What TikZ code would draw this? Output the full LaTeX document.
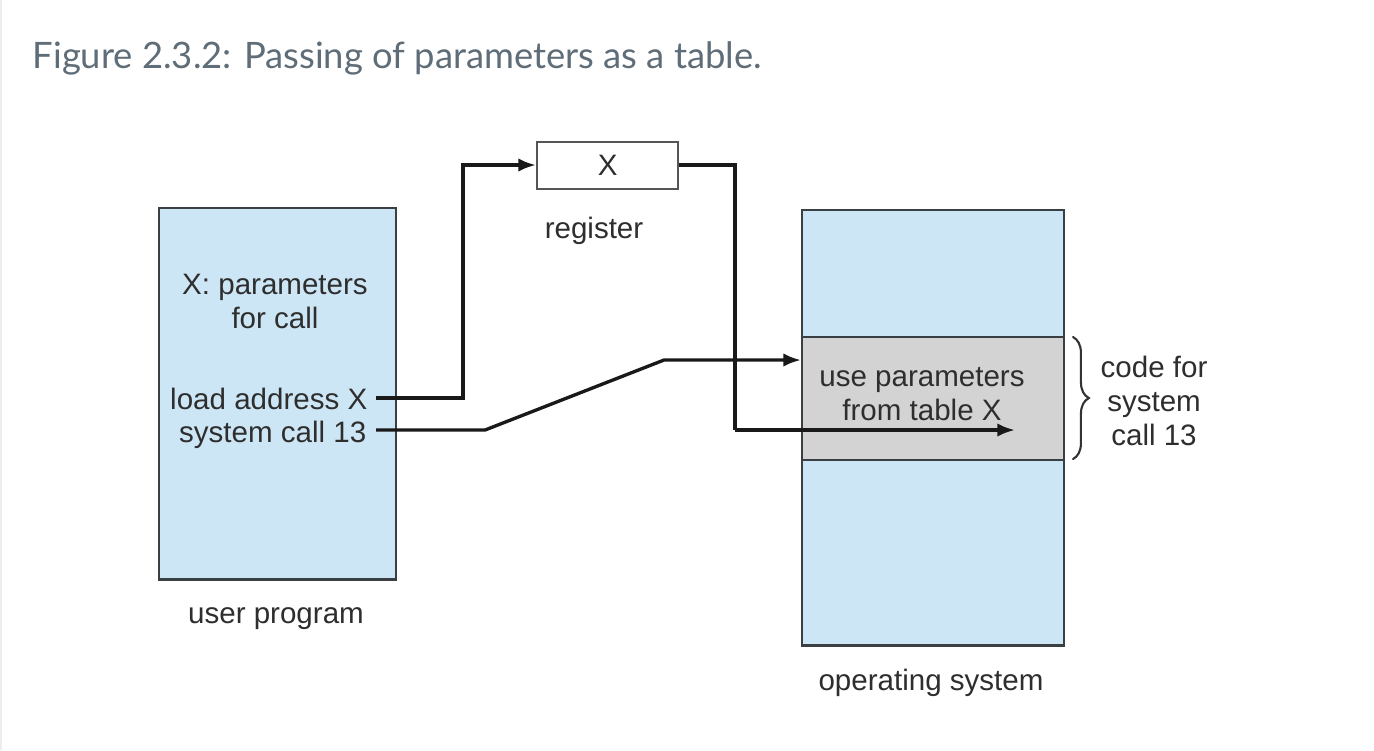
\documentclass[tikz,border=0pt]{standalone}
\usepackage{fontspec}
\setmainfont{Liberation Sans}
\newfontfamily\titlefont{Lato}
\usetikzlibrary{arrows.meta,decorations.pathreplacing}
\definecolor{lblue}{HTML}{CDE6F5}
\definecolor{cgray}{HTML}{D3D3D3}
\definecolor{edge}{HTML}{3A3F44}
\definecolor{regedge}{HTML}{555555}
\definecolor{txt}{HTML}{2E2E2E}
\definecolor{ttl}{HTML}{5F6D78}
\begin{document}
\begin{tikzpicture}[x=0.01cm,y=-0.01cm,
  box/.style={draw=edge, line width=0.65pt, inner sep=0pt, anchor=north west},
  lbl/.style={text=txt, inner sep=0pt, font=\fontsize{8.4}{10}\selectfont},
  conn/.style={line width=0.95pt, draw=black!90},
  arr/.style={conn, -{Latex[length=5pt,width=3.8pt]}}]
\useasboundingbox (0,0) rectangle (1374,750);
\fill[white] (0,0) rectangle (1374,750);
\fill[black!7] (0,0) rectangle (2,750);
\node[anchor=base west, inner sep=0pt, text=ttl, font=\titlefont\fontsize{10.35}{12}\selectfont] (title) at (32,68) {Figure 2.3.2: Passing of parameters as a table.};

% boxes
\node[box, fill=lblue, minimum width=2.37cm, minimum height=3.71cm] (user) at (158,207) {};
\node[box, draw=regedge, fill=white, minimum width=1.41cm, minimum height=0.47cm, lbl] (reg) at (536,141) {X};
\node[box, fill=lblue, minimum width=2.62cm, minimum height=4.35cm] (os) at (801,209) {};
\node[box, fill=cgray, minimum width=2.62cm, minimum height=1.23cm] (code) at (801,336) {};

% texts
\node[lbl, anchor=base] (p1) at (275,294) {X: parameters};
\node[lbl, anchor=base] (p2) at (275,328) {for call};
\node[lbl, anchor=base east] (load) at (368,409) {load address X};
\node[lbl, anchor=base east] (sys) at (367,442) {system call 13};
\node[lbl, anchor=base] (regl) at (594,238) {register};
\node[lbl, anchor=base] (use1) at (922,386) {use parameters};
\node[lbl, anchor=base] (use2) at (922,420) {from table X};
\node[lbl, anchor=base] (cf1) at (1154,377) {code for};
\node[lbl, anchor=base] (cf2) at (1154,411) {system};
\node[lbl, anchor=base] (cf3) at (1154,445) {call 13};
\node[lbl, anchor=base] (userl) at (276,623) {user program};
\node[lbl, anchor=base] (osl) at (931,690) {operating system};

% connectors
\coordinate (ls) at (376,398);
\coordinate (ss) at (376,430);
\coordinate (tgt) at (1015,430);
\draw[arr] (ls) -- (463,398) -- (463,165) -- (reg.west |- 463,165);
\draw[conn] (reg.east |- 0,165) -- (735,165) -- (735,430);
\draw[arr] (735,430) -- (tgt);
\draw[arr] (ss) -- (485,430) -- (664,360) -- (os.west |- 0,360);

% brace
\draw[line width=0.6pt, draw=black!80, line cap=round, decorate, decoration={brace, amplitude=4.5pt}] (1073,337) -- (1073,459);
\end{tikzpicture}
\end{document}
